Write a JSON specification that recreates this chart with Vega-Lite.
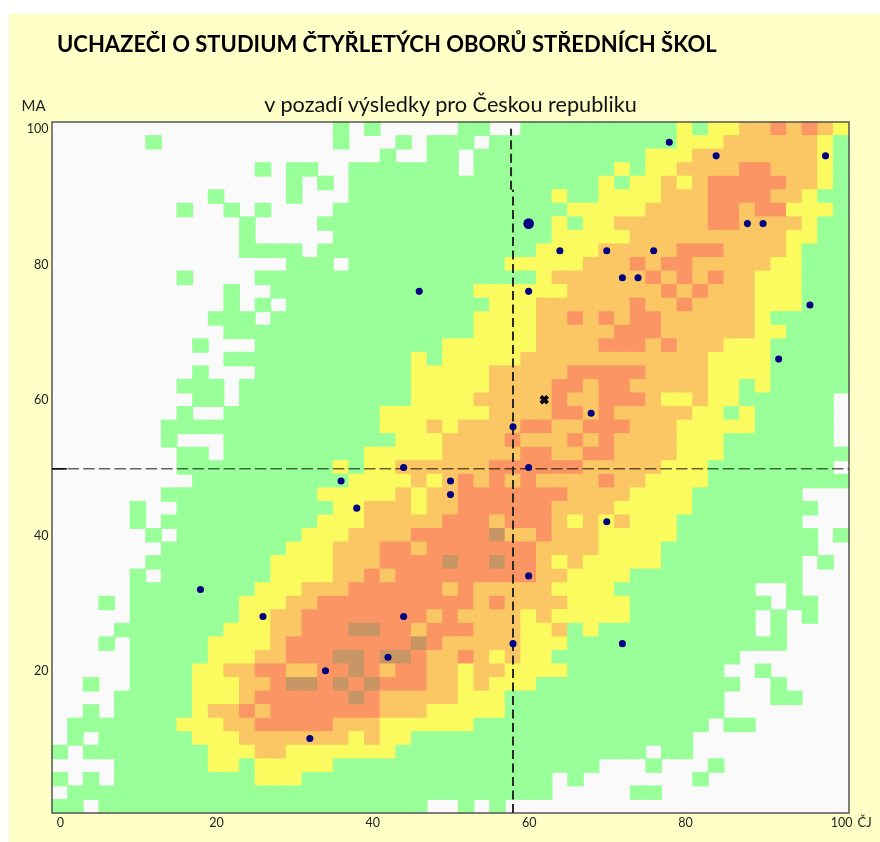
{"$schema":"https://vega.github.io/schema/vega-lite/v6.json","width":797,"height":691,"autosize":"none","padding":{"left":52,"top":122,"right":31,"bottom":29},"background":"white","config":{"view":{"stroke":null},"font":"Lato"},
"title":{"text":"UCHAZEČI O STUDIUM ČTYŘLETÝCH OBORŮ STŘEDNÍCH ŠKOL","anchor":"start","frame":"group","font":"Lato","fontSize":22,"fontWeight":"bold","color":"#000","dx":5,"offset":-43},
"datasets":{"cells":[
{"x":36,"y":100,"c":"G"},{"x":40,"y":100,"c":"G"},{"x":52,"y":100,"c":"G"},{"x":54,"y":100,"c":"G"},{"x":60,"y":100,"c":"G"},{"x":62,"y":100,"c":"G"},{"x":64,"y":100,"c":"G"},{"x":66,"y":100,"c":"G"},{"x":68,"y":100,"c":"G"},{"x":70,"y":100,"c":"G"},{"x":72,"y":100,"c":"G"},{"x":74,"y":100,"c":"G"},{"x":76,"y":100,"c":"G"},{"x":78,"y":100,"c":"G"},{"x":80,"y":100,"c":"Y"},{"x":82,"y":100,"c":"G"},{"x":84,"y":100,"c":"Y"},{"x":86,"y":100,"c":"Y"},{"x":88,"y":100,"c":"L"},{"x":90,"y":100,"c":"L"},{"x":92,"y":100,"c":"O"},{"x":94,"y":100,"c":"L"},{"x":96,"y":100,"c":"O"},{"x":98,"y":100,"c":"L"},{"x":100,"y":100,"c":"Y"},
{"x":12,"y":98,"c":"G"},{"x":36,"y":98,"c":"G"},{"x":44,"y":98,"c":"G"},{"x":48,"y":98,"c":"G"},{"x":50,"y":98,"c":"G"},{"x":52,"y":98,"c":"G"},{"x":56,"y":98,"c":"G"},{"x":58,"y":98,"c":"G"},{"x":60,"y":98,"c":"G"},{"x":62,"y":98,"c":"G"},{"x":64,"y":98,"c":"G"},{"x":66,"y":98,"c":"G"},{"x":68,"y":98,"c":"G"},{"x":70,"y":98,"c":"G"},{"x":72,"y":98,"c":"G"},{"x":74,"y":98,"c":"G"},{"x":76,"y":98,"c":"G"},{"x":78,"y":98,"c":"G"},{"x":80,"y":98,"c":"Y"},{"x":82,"y":98,"c":"Y"},{"x":84,"y":98,"c":"Y"},{"x":86,"y":98,"c":"L"},{"x":88,"y":98,"c":"L"},{"x":90,"y":98,"c":"L"},{"x":92,"y":98,"c":"L"},{"x":94,"y":98,"c":"L"},{"x":96,"y":98,"c":"L"},{"x":98,"y":98,"c":"Y"},{"x":100,"y":98,"c":"G"},
{"x":42,"y":96,"c":"G"},{"x":48,"y":96,"c":"G"},{"x":50,"y":96,"c":"G"},{"x":54,"y":96,"c":"G"},{"x":56,"y":96,"c":"G"},{"x":58,"y":96,"c":"G"},{"x":60,"y":96,"c":"G"},{"x":62,"y":96,"c":"G"},{"x":64,"y":96,"c":"G"},{"x":66,"y":96,"c":"G"},{"x":68,"y":96,"c":"G"},{"x":70,"y":96,"c":"G"},{"x":72,"y":96,"c":"G"},{"x":74,"y":96,"c":"G"},{"x":76,"y":96,"c":"Y"},{"x":78,"y":96,"c":"Y"},{"x":80,"y":96,"c":"Y"},{"x":82,"y":96,"c":"L"},{"x":84,"y":96,"c":"L"},{"x":86,"y":96,"c":"L"},{"x":88,"y":96,"c":"L"},{"x":90,"y":96,"c":"L"},{"x":92,"y":96,"c":"L"},{"x":94,"y":96,"c":"L"},{"x":96,"y":96,"c":"L"},{"x":98,"y":96,"c":"Y"},{"x":100,"y":96,"c":"G"},
{"x":26,"y":94,"c":"G"},{"x":30,"y":94,"c":"G"},{"x":32,"y":94,"c":"G"},{"x":38,"y":94,"c":"G"},{"x":40,"y":94,"c":"G"},{"x":42,"y":94,"c":"G"},{"x":44,"y":94,"c":"G"},{"x":46,"y":94,"c":"G"},{"x":48,"y":94,"c":"G"},{"x":50,"y":94,"c":"G"},{"x":54,"y":94,"c":"G"},{"x":56,"y":94,"c":"G"},{"x":58,"y":94,"c":"G"},{"x":60,"y":94,"c":"G"},{"x":62,"y":94,"c":"G"},{"x":64,"y":94,"c":"G"},{"x":66,"y":94,"c":"G"},{"x":68,"y":94,"c":"G"},{"x":70,"y":94,"c":"G"},{"x":72,"y":94,"c":"Y"},{"x":74,"y":94,"c":"G"},{"x":76,"y":94,"c":"Y"},{"x":78,"y":94,"c":"Y"},{"x":80,"y":94,"c":"L"},{"x":82,"y":94,"c":"L"},{"x":84,"y":94,"c":"L"},{"x":86,"y":94,"c":"L"},{"x":88,"y":94,"c":"O"},{"x":90,"y":94,"c":"O"},{"x":92,"y":94,"c":"L"},{"x":94,"y":94,"c":"L"},{"x":96,"y":94,"c":"L"},{"x":98,"y":94,"c":"Y"},{"x":100,"y":94,"c":"G"},
{"x":30,"y":92,"c":"G"},{"x":34,"y":92,"c":"G"},{"x":38,"y":92,"c":"G"},{"x":40,"y":92,"c":"G"},{"x":42,"y":92,"c":"G"},{"x":44,"y":92,"c":"G"},{"x":46,"y":92,"c":"G"},{"x":48,"y":92,"c":"G"},{"x":50,"y":92,"c":"G"},{"x":52,"y":92,"c":"G"},{"x":54,"y":92,"c":"G"},{"x":56,"y":92,"c":"G"},{"x":58,"y":92,"c":"G"},{"x":60,"y":92,"c":"G"},{"x":62,"y":92,"c":"G"},{"x":64,"y":92,"c":"G"},{"x":66,"y":92,"c":"G"},{"x":68,"y":92,"c":"G"},{"x":70,"y":92,"c":"Y"},{"x":72,"y":92,"c":"G"},{"x":74,"y":92,"c":"Y"},{"x":76,"y":92,"c":"Y"},{"x":78,"y":92,"c":"L"},{"x":80,"y":92,"c":"Y"},{"x":82,"y":92,"c":"L"},{"x":84,"y":92,"c":"O"},{"x":86,"y":92,"c":"O"},{"x":88,"y":92,"c":"O"},{"x":90,"y":92,"c":"O"},{"x":92,"y":92,"c":"O"},{"x":94,"y":92,"c":"L"},{"x":96,"y":92,"c":"L"},{"x":98,"y":92,"c":"Y"},{"x":100,"y":92,"c":"G"},
{"x":20,"y":90,"c":"G"},{"x":30,"y":90,"c":"G"},{"x":38,"y":90,"c":"G"},{"x":40,"y":90,"c":"G"},{"x":42,"y":90,"c":"G"},{"x":44,"y":90,"c":"G"},{"x":46,"y":90,"c":"G"},{"x":48,"y":90,"c":"G"},{"x":50,"y":90,"c":"G"},{"x":52,"y":90,"c":"G"},{"x":54,"y":90,"c":"G"},{"x":56,"y":90,"c":"G"},{"x":58,"y":90,"c":"G"},{"x":60,"y":90,"c":"G"},{"x":62,"y":90,"c":"G"},{"x":64,"y":90,"c":"Y"},{"x":66,"y":90,"c":"G"},{"x":68,"y":90,"c":"G"},{"x":70,"y":90,"c":"Y"},{"x":72,"y":90,"c":"Y"},{"x":74,"y":90,"c":"Y"},{"x":76,"y":90,"c":"Y"},{"x":78,"y":90,"c":"L"},{"x":80,"y":90,"c":"L"},{"x":82,"y":90,"c":"L"},{"x":84,"y":90,"c":"O"},{"x":86,"y":90,"c":"O"},{"x":88,"y":90,"c":"O"},{"x":90,"y":90,"c":"O"},{"x":92,"y":90,"c":"L"},{"x":94,"y":90,"c":"L"},{"x":96,"y":90,"c":"Y"},{"x":98,"y":90,"c":"G"},{"x":100,"y":90,"c":"G"},
{"x":16,"y":88,"c":"G"},{"x":22,"y":88,"c":"G"},{"x":26,"y":88,"c":"G"},{"x":36,"y":88,"c":"G"},{"x":38,"y":88,"c":"G"},{"x":40,"y":88,"c":"G"},{"x":42,"y":88,"c":"G"},{"x":44,"y":88,"c":"G"},{"x":46,"y":88,"c":"G"},{"x":48,"y":88,"c":"G"},{"x":50,"y":88,"c":"G"},{"x":52,"y":88,"c":"G"},{"x":54,"y":88,"c":"G"},{"x":56,"y":88,"c":"G"},{"x":58,"y":88,"c":"G"},{"x":60,"y":88,"c":"G"},{"x":62,"y":88,"c":"G"},{"x":64,"y":88,"c":"G"},{"x":66,"y":88,"c":"Y"},{"x":68,"y":88,"c":"Y"},{"x":70,"y":88,"c":"Y"},{"x":72,"y":88,"c":"Y"},{"x":74,"y":88,"c":"Y"},{"x":76,"y":88,"c":"L"},{"x":78,"y":88,"c":"L"},{"x":80,"y":88,"c":"L"},{"x":82,"y":88,"c":"L"},{"x":84,"y":88,"c":"O"},{"x":86,"y":88,"c":"O"},{"x":88,"y":88,"c":"L"},{"x":90,"y":88,"c":"O"},{"x":92,"y":88,"c":"O"},{"x":94,"y":88,"c":"Y"},{"x":96,"y":88,"c":"Y"},{"x":98,"y":88,"c":"Y"},{"x":100,"y":88,"c":"G"},
{"x":24,"y":86,"c":"G"},{"x":34,"y":86,"c":"G"},{"x":36,"y":86,"c":"G"},{"x":38,"y":86,"c":"G"},{"x":40,"y":86,"c":"G"},{"x":42,"y":86,"c":"G"},{"x":44,"y":86,"c":"G"},{"x":46,"y":86,"c":"G"},{"x":48,"y":86,"c":"G"},{"x":50,"y":86,"c":"G"},{"x":52,"y":86,"c":"G"},{"x":54,"y":86,"c":"G"},{"x":56,"y":86,"c":"G"},{"x":58,"y":86,"c":"G"},{"x":60,"y":86,"c":"G"},{"x":62,"y":86,"c":"G"},{"x":64,"y":86,"c":"Y"},{"x":66,"y":86,"c":"G"},{"x":68,"y":86,"c":"Y"},{"x":70,"y":86,"c":"Y"},{"x":72,"y":86,"c":"L"},{"x":74,"y":86,"c":"L"},{"x":76,"y":86,"c":"L"},{"x":78,"y":86,"c":"L"},{"x":80,"y":86,"c":"L"},{"x":82,"y":86,"c":"L"},{"x":84,"y":86,"c":"O"},{"x":86,"y":86,"c":"O"},{"x":88,"y":86,"c":"L"},{"x":90,"y":86,"c":"L"},{"x":92,"y":86,"c":"L"},{"x":94,"y":86,"c":"L"},{"x":96,"y":86,"c":"Y"},{"x":98,"y":86,"c":"G"},{"x":100,"y":86,"c":"G"},
{"x":24,"y":84,"c":"G"},{"x":36,"y":84,"c":"G"},{"x":38,"y":84,"c":"G"},{"x":40,"y":84,"c":"G"},{"x":42,"y":84,"c":"G"},{"x":44,"y":84,"c":"G"},{"x":46,"y":84,"c":"G"},{"x":48,"y":84,"c":"G"},{"x":50,"y":84,"c":"G"},{"x":52,"y":84,"c":"G"},{"x":54,"y":84,"c":"G"},{"x":56,"y":84,"c":"G"},{"x":58,"y":84,"c":"G"},{"x":60,"y":84,"c":"G"},{"x":62,"y":84,"c":"G"},{"x":64,"y":84,"c":"Y"},{"x":66,"y":84,"c":"Y"},{"x":68,"y":84,"c":"Y"},{"x":70,"y":84,"c":"Y"},{"x":72,"y":84,"c":"Y"},{"x":74,"y":84,"c":"L"},{"x":76,"y":84,"c":"L"},{"x":78,"y":84,"c":"L"},{"x":80,"y":84,"c":"L"},{"x":82,"y":84,"c":"L"},{"x":84,"y":84,"c":"L"},{"x":86,"y":84,"c":"L"},{"x":88,"y":84,"c":"L"},{"x":90,"y":84,"c":"L"},{"x":92,"y":84,"c":"L"},{"x":94,"y":84,"c":"Y"},{"x":96,"y":84,"c":"Y"},{"x":98,"y":84,"c":"G"},{"x":100,"y":84,"c":"G"},
{"x":24,"y":82,"c":"G"},{"x":26,"y":82,"c":"G"},{"x":28,"y":82,"c":"G"},{"x":30,"y":82,"c":"G"},{"x":34,"y":82,"c":"G"},{"x":36,"y":82,"c":"G"},{"x":38,"y":82,"c":"G"},{"x":40,"y":82,"c":"G"},{"x":42,"y":82,"c":"G"},{"x":44,"y":82,"c":"G"},{"x":46,"y":82,"c":"G"},{"x":48,"y":82,"c":"G"},{"x":50,"y":82,"c":"G"},{"x":52,"y":82,"c":"G"},{"x":54,"y":82,"c":"G"},{"x":56,"y":82,"c":"G"},{"x":58,"y":82,"c":"G"},{"x":60,"y":82,"c":"G"},{"x":62,"y":82,"c":"Y"},{"x":64,"y":82,"c":"Y"},{"x":66,"y":82,"c":"Y"},{"x":68,"y":82,"c":"Y"},{"x":70,"y":82,"c":"L"},{"x":72,"y":82,"c":"L"},{"x":74,"y":82,"c":"L"},{"x":76,"y":82,"c":"L"},{"x":78,"y":82,"c":"L"},{"x":80,"y":82,"c":"O"},{"x":82,"y":82,"c":"O"},{"x":84,"y":82,"c":"O"},{"x":86,"y":82,"c":"L"},{"x":88,"y":82,"c":"L"},{"x":90,"y":82,"c":"L"},{"x":92,"y":82,"c":"L"},{"x":94,"y":82,"c":"Y"},{"x":96,"y":82,"c":"G"},{"x":98,"y":82,"c":"G"},{"x":100,"y":82,"c":"G"},
{"x":30,"y":80,"c":"G"},{"x":32,"y":80,"c":"G"},{"x":34,"y":80,"c":"G"},{"x":38,"y":80,"c":"G"},{"x":40,"y":80,"c":"G"},{"x":42,"y":80,"c":"G"},{"x":44,"y":80,"c":"G"},{"x":46,"y":80,"c":"G"},{"x":48,"y":80,"c":"G"},{"x":50,"y":80,"c":"G"},{"x":52,"y":80,"c":"G"},{"x":54,"y":80,"c":"G"},{"x":56,"y":80,"c":"G"},{"x":58,"y":80,"c":"Y"},{"x":60,"y":80,"c":"Y"},{"x":62,"y":80,"c":"Y"},{"x":64,"y":80,"c":"Y"},{"x":66,"y":80,"c":"Y"},{"x":68,"y":80,"c":"L"},{"x":70,"y":80,"c":"L"},{"x":72,"y":80,"c":"L"},{"x":74,"y":80,"c":"O"},{"x":76,"y":80,"c":"L"},{"x":78,"y":80,"c":"O"},{"x":80,"y":80,"c":"O"},{"x":82,"y":80,"c":"L"},{"x":84,"y":80,"c":"L"},{"x":86,"y":80,"c":"L"},{"x":88,"y":80,"c":"L"},{"x":90,"y":80,"c":"L"},{"x":92,"y":80,"c":"Y"},{"x":94,"y":80,"c":"Y"},{"x":96,"y":80,"c":"G"},{"x":98,"y":80,"c":"G"},{"x":100,"y":80,"c":"G"},
{"x":16,"y":78,"c":"G"},{"x":26,"y":78,"c":"G"},{"x":28,"y":78,"c":"G"},{"x":30,"y":78,"c":"G"},{"x":32,"y":78,"c":"G"},{"x":34,"y":78,"c":"G"},{"x":36,"y":78,"c":"G"},{"x":38,"y":78,"c":"G"},{"x":40,"y":78,"c":"G"},{"x":42,"y":78,"c":"G"},{"x":44,"y":78,"c":"G"},{"x":46,"y":78,"c":"G"},{"x":48,"y":78,"c":"G"},{"x":50,"y":78,"c":"G"},{"x":52,"y":78,"c":"G"},{"x":54,"y":78,"c":"G"},{"x":56,"y":78,"c":"G"},{"x":58,"y":78,"c":"G"},{"x":60,"y":78,"c":"G"},{"x":62,"y":78,"c":"Y"},{"x":64,"y":78,"c":"L"},{"x":66,"y":78,"c":"L"},{"x":68,"y":78,"c":"L"},{"x":70,"y":78,"c":"L"},{"x":72,"y":78,"c":"L"},{"x":74,"y":78,"c":"L"},{"x":76,"y":78,"c":"O"},{"x":78,"y":78,"c":"L"},{"x":80,"y":78,"c":"O"},{"x":82,"y":78,"c":"L"},{"x":84,"y":78,"c":"O"},{"x":86,"y":78,"c":"L"},{"x":88,"y":78,"c":"L"},{"x":90,"y":78,"c":"Y"},{"x":92,"y":78,"c":"Y"},{"x":94,"y":78,"c":"Y"},{"x":96,"y":78,"c":"G"},{"x":98,"y":78,"c":"G"},{"x":100,"y":78,"c":"G"},
{"x":22,"y":76,"c":"G"},{"x":28,"y":76,"c":"G"},{"x":30,"y":76,"c":"G"},{"x":32,"y":76,"c":"G"},{"x":34,"y":76,"c":"G"},{"x":36,"y":76,"c":"G"},{"x":38,"y":76,"c":"G"},{"x":40,"y":76,"c":"G"},{"x":42,"y":76,"c":"G"},{"x":44,"y":76,"c":"G"},{"x":46,"y":76,"c":"G"},{"x":48,"y":76,"c":"G"},{"x":50,"y":76,"c":"G"},{"x":52,"y":76,"c":"G"},{"x":54,"y":76,"c":"Y"},{"x":56,"y":76,"c":"Y"},{"x":58,"y":76,"c":"Y"},{"x":60,"y":76,"c":"Y"},{"x":62,"y":76,"c":"Y"},{"x":64,"y":76,"c":"Y"},{"x":66,"y":76,"c":"L"},{"x":68,"y":76,"c":"L"},{"x":70,"y":76,"c":"L"},{"x":72,"y":76,"c":"L"},{"x":74,"y":76,"c":"L"},{"x":76,"y":76,"c":"L"},{"x":78,"y":76,"c":"O"},{"x":80,"y":76,"c":"L"},{"x":82,"y":76,"c":"O"},{"x":84,"y":76,"c":"L"},{"x":86,"y":76,"c":"L"},{"x":88,"y":76,"c":"L"},{"x":90,"y":76,"c":"Y"},{"x":92,"y":76,"c":"Y"},{"x":94,"y":76,"c":"Y"},{"x":96,"y":76,"c":"G"},{"x":98,"y":76,"c":"G"},{"x":100,"y":76,"c":"G"},
{"x":22,"y":74,"c":"G"},{"x":26,"y":74,"c":"G"},{"x":30,"y":74,"c":"G"},{"x":32,"y":74,"c":"G"},{"x":34,"y":74,"c":"G"},{"x":36,"y":74,"c":"G"},{"x":38,"y":74,"c":"G"},{"x":40,"y":74,"c":"G"},{"x":42,"y":74,"c":"G"},{"x":44,"y":74,"c":"G"},{"x":46,"y":74,"c":"G"},{"x":48,"y":74,"c":"G"},{"x":50,"y":74,"c":"G"},{"x":52,"y":74,"c":"G"},{"x":54,"y":74,"c":"G"},{"x":56,"y":74,"c":"Y"},{"x":58,"y":74,"c":"Y"},{"x":60,"y":74,"c":"Y"},{"x":62,"y":74,"c":"L"},{"x":64,"y":74,"c":"L"},{"x":66,"y":74,"c":"L"},{"x":68,"y":74,"c":"L"},{"x":70,"y":74,"c":"L"},{"x":72,"y":74,"c":"L"},{"x":74,"y":74,"c":"O"},{"x":76,"y":74,"c":"L"},{"x":78,"y":74,"c":"L"},{"x":80,"y":74,"c":"O"},{"x":82,"y":74,"c":"L"},{"x":84,"y":74,"c":"L"},{"x":86,"y":74,"c":"L"},{"x":88,"y":74,"c":"L"},{"x":90,"y":74,"c":"Y"},{"x":92,"y":74,"c":"Y"},{"x":94,"y":74,"c":"Y"},{"x":96,"y":74,"c":"G"},{"x":98,"y":74,"c":"G"},{"x":100,"y":74,"c":"G"},
{"x":20,"y":72,"c":"G"},{"x":22,"y":72,"c":"G"},{"x":24,"y":72,"c":"G"},{"x":28,"y":72,"c":"G"},{"x":30,"y":72,"c":"G"},{"x":32,"y":72,"c":"G"},{"x":34,"y":72,"c":"G"},{"x":36,"y":72,"c":"G"},{"x":38,"y":72,"c":"G"},{"x":40,"y":72,"c":"G"},{"x":42,"y":72,"c":"G"},{"x":44,"y":72,"c":"G"},{"x":46,"y":72,"c":"G"},{"x":48,"y":72,"c":"G"},{"x":50,"y":72,"c":"G"},{"x":52,"y":72,"c":"G"},{"x":54,"y":72,"c":"Y"},{"x":56,"y":72,"c":"Y"},{"x":58,"y":72,"c":"Y"},{"x":60,"y":72,"c":"Y"},{"x":62,"y":72,"c":"L"},{"x":64,"y":72,"c":"L"},{"x":66,"y":72,"c":"O"},{"x":68,"y":72,"c":"L"},{"x":70,"y":72,"c":"O"},{"x":72,"y":72,"c":"L"},{"x":74,"y":72,"c":"O"},{"x":76,"y":72,"c":"O"},{"x":78,"y":72,"c":"L"},{"x":80,"y":72,"c":"L"},{"x":82,"y":72,"c":"L"},{"x":84,"y":72,"c":"L"},{"x":86,"y":72,"c":"L"},{"x":88,"y":72,"c":"L"},{"x":90,"y":72,"c":"Y"},{"x":92,"y":72,"c":"G"},{"x":94,"y":72,"c":"G"},{"x":96,"y":72,"c":"G"},{"x":98,"y":72,"c":"G"},{"x":100,"y":72,"c":"G"},
{"x":22,"y":70,"c":"G"},{"x":24,"y":70,"c":"G"},{"x":26,"y":70,"c":"G"},{"x":28,"y":70,"c":"G"},{"x":30,"y":70,"c":"G"},{"x":32,"y":70,"c":"G"},{"x":34,"y":70,"c":"G"},{"x":36,"y":70,"c":"G"},{"x":38,"y":70,"c":"G"},{"x":40,"y":70,"c":"G"},{"x":42,"y":70,"c":"G"},{"x":44,"y":70,"c":"G"},{"x":46,"y":70,"c":"G"},{"x":48,"y":70,"c":"G"},{"x":50,"y":70,"c":"G"},{"x":52,"y":70,"c":"G"},{"x":54,"y":70,"c":"Y"},{"x":56,"y":70,"c":"Y"},{"x":58,"y":70,"c":"Y"},{"x":60,"y":70,"c":"Y"},{"x":62,"y":70,"c":"L"},{"x":64,"y":70,"c":"L"},{"x":66,"y":70,"c":"L"},{"x":68,"y":70,"c":"L"},{"x":70,"y":70,"c":"L"},{"x":72,"y":70,"c":"O"},{"x":74,"y":70,"c":"O"},{"x":76,"y":70,"c":"O"},{"x":78,"y":70,"c":"L"},{"x":80,"y":70,"c":"L"},{"x":82,"y":70,"c":"L"},{"x":84,"y":70,"c":"L"},{"x":86,"y":70,"c":"L"},{"x":88,"y":70,"c":"L"},{"x":90,"y":70,"c":"Y"},{"x":92,"y":70,"c":"Y"},{"x":94,"y":70,"c":"G"},{"x":96,"y":70,"c":"G"},{"x":98,"y":70,"c":"G"},{"x":100,"y":70,"c":"G"},
{"x":18,"y":68,"c":"G"},{"x":26,"y":68,"c":"G"},{"x":28,"y":68,"c":"G"},{"x":30,"y":68,"c":"G"},{"x":32,"y":68,"c":"G"},{"x":34,"y":68,"c":"G"},{"x":36,"y":68,"c":"G"},{"x":38,"y":68,"c":"G"},{"x":40,"y":68,"c":"G"},{"x":42,"y":68,"c":"G"},{"x":44,"y":68,"c":"G"},{"x":46,"y":68,"c":"G"},{"x":48,"y":68,"c":"G"},{"x":50,"y":68,"c":"Y"},{"x":52,"y":68,"c":"Y"},{"x":54,"y":68,"c":"Y"},{"x":56,"y":68,"c":"Y"},{"x":58,"y":68,"c":"Y"},{"x":60,"y":68,"c":"Y"},{"x":62,"y":68,"c":"L"},{"x":64,"y":68,"c":"L"},{"x":66,"y":68,"c":"L"},{"x":68,"y":68,"c":"L"},{"x":70,"y":68,"c":"O"},{"x":72,"y":68,"c":"O"},{"x":74,"y":68,"c":"O"},{"x":76,"y":68,"c":"L"},{"x":78,"y":68,"c":"O"},{"x":80,"y":68,"c":"L"},{"x":82,"y":68,"c":"L"},{"x":84,"y":68,"c":"L"},{"x":86,"y":68,"c":"Y"},{"x":88,"y":68,"c":"Y"},{"x":90,"y":68,"c":"Y"},{"x":92,"y":68,"c":"G"},{"x":94,"y":68,"c":"G"},{"x":96,"y":68,"c":"G"},{"x":98,"y":68,"c":"G"},{"x":100,"y":68,"c":"G"},
{"x":22,"y":66,"c":"G"},{"x":24,"y":66,"c":"G"},{"x":26,"y":66,"c":"G"},{"x":28,"y":66,"c":"G"},{"x":30,"y":66,"c":"G"},{"x":32,"y":66,"c":"G"},{"x":34,"y":66,"c":"G"},{"x":36,"y":66,"c":"G"},{"x":38,"y":66,"c":"G"},{"x":40,"y":66,"c":"G"},{"x":42,"y":66,"c":"G"},{"x":44,"y":66,"c":"G"},{"x":46,"y":66,"c":"Y"},{"x":48,"y":66,"c":"G"},{"x":50,"y":66,"c":"Y"},{"x":52,"y":66,"c":"Y"},{"x":54,"y":66,"c":"Y"},{"x":56,"y":66,"c":"Y"},{"x":58,"y":66,"c":"Y"},{"x":60,"y":66,"c":"L"},{"x":62,"y":66,"c":"L"},{"x":64,"y":66,"c":"L"},{"x":66,"y":66,"c":"L"},{"x":68,"y":66,"c":"L"},{"x":70,"y":66,"c":"L"},{"x":72,"y":66,"c":"L"},{"x":74,"y":66,"c":"L"},{"x":76,"y":66,"c":"L"},{"x":78,"y":66,"c":"L"},{"x":80,"y":66,"c":"L"},{"x":82,"y":66,"c":"L"},{"x":84,"y":66,"c":"Y"},{"x":86,"y":66,"c":"Y"},{"x":88,"y":66,"c":"Y"},{"x":90,"y":66,"c":"Y"},{"x":92,"y":66,"c":"G"},{"x":94,"y":66,"c":"G"},{"x":96,"y":66,"c":"G"},{"x":98,"y":66,"c":"G"},{"x":100,"y":66,"c":"G"},
{"x":18,"y":64,"c":"G"},{"x":26,"y":64,"c":"G"},{"x":28,"y":64,"c":"G"},{"x":30,"y":64,"c":"G"},{"x":32,"y":64,"c":"G"},{"x":34,"y":64,"c":"G"},{"x":36,"y":64,"c":"G"},{"x":38,"y":64,"c":"G"},{"x":40,"y":64,"c":"G"},{"x":42,"y":64,"c":"G"},{"x":44,"y":64,"c":"G"},{"x":46,"y":64,"c":"Y"},{"x":48,"y":64,"c":"Y"},{"x":50,"y":64,"c":"Y"},{"x":52,"y":64,"c":"Y"},{"x":54,"y":64,"c":"Y"},{"x":56,"y":64,"c":"L"},{"x":58,"y":64,"c":"L"},{"x":60,"y":64,"c":"L"},{"x":62,"y":64,"c":"L"},{"x":64,"y":64,"c":"L"},{"x":66,"y":64,"c":"O"},{"x":68,"y":64,"c":"O"},{"x":70,"y":64,"c":"O"},{"x":72,"y":64,"c":"O"},{"x":74,"y":64,"c":"O"},{"x":76,"y":64,"c":"L"},{"x":78,"y":64,"c":"L"},{"x":80,"y":64,"c":"L"},{"x":82,"y":64,"c":"L"},{"x":84,"y":64,"c":"Y"},{"x":86,"y":64,"c":"Y"},{"x":88,"y":64,"c":"Y"},{"x":90,"y":64,"c":"Y"},{"x":92,"y":64,"c":"G"},{"x":94,"y":64,"c":"G"},{"x":96,"y":64,"c":"G"},{"x":98,"y":64,"c":"G"},{"x":100,"y":64,"c":"G"},
{"x":16,"y":62,"c":"G"},{"x":18,"y":62,"c":"G"},{"x":20,"y":62,"c":"G"},{"x":24,"y":62,"c":"G"},{"x":26,"y":62,"c":"G"},{"x":28,"y":62,"c":"G"},{"x":30,"y":62,"c":"G"},{"x":32,"y":62,"c":"G"},{"x":34,"y":62,"c":"G"},{"x":36,"y":62,"c":"G"},{"x":38,"y":62,"c":"G"},{"x":40,"y":62,"c":"G"},{"x":42,"y":62,"c":"G"},{"x":44,"y":62,"c":"G"},{"x":46,"y":62,"c":"Y"},{"x":48,"y":62,"c":"Y"},{"x":50,"y":62,"c":"Y"},{"x":52,"y":62,"c":"Y"},{"x":54,"y":62,"c":"Y"},{"x":56,"y":62,"c":"L"},{"x":58,"y":62,"c":"L"},{"x":60,"y":62,"c":"L"},{"x":62,"y":62,"c":"L"},{"x":64,"y":62,"c":"O"},{"x":66,"y":62,"c":"O"},{"x":68,"y":62,"c":"L"},{"x":70,"y":62,"c":"O"},{"x":72,"y":62,"c":"O"},{"x":74,"y":62,"c":"L"},{"x":76,"y":62,"c":"L"},{"x":78,"y":62,"c":"L"},{"x":80,"y":62,"c":"L"},{"x":82,"y":62,"c":"L"},{"x":84,"y":62,"c":"Y"},{"x":86,"y":62,"c":"Y"},{"x":88,"y":62,"c":"G"},{"x":90,"y":62,"c":"Y"},{"x":92,"y":62,"c":"G"},{"x":94,"y":62,"c":"G"},{"x":96,"y":62,"c":"G"},{"x":98,"y":62,"c":"G"},{"x":100,"y":62,"c":"G"},
{"x":18,"y":60,"c":"G"},{"x":20,"y":60,"c":"G"},{"x":24,"y":60,"c":"G"},{"x":26,"y":60,"c":"G"},{"x":28,"y":60,"c":"G"},{"x":30,"y":60,"c":"G"},{"x":32,"y":60,"c":"G"},{"x":34,"y":60,"c":"G"},{"x":36,"y":60,"c":"G"},{"x":38,"y":60,"c":"G"},{"x":40,"y":60,"c":"G"},{"x":42,"y":60,"c":"G"},{"x":44,"y":60,"c":"G"},{"x":46,"y":60,"c":"Y"},{"x":48,"y":60,"c":"Y"},{"x":50,"y":60,"c":"Y"},{"x":52,"y":60,"c":"Y"},{"x":54,"y":60,"c":"L"},{"x":56,"y":60,"c":"L"},{"x":58,"y":60,"c":"L"},{"x":60,"y":60,"c":"L"},{"x":62,"y":60,"c":"L"},{"x":64,"y":60,"c":"O"},{"x":66,"y":60,"c":"L"},{"x":68,"y":60,"c":"L"},{"x":70,"y":60,"c":"O"},{"x":72,"y":60,"c":"O"},{"x":74,"y":60,"c":"O"},{"x":76,"y":60,"c":"L"},{"x":78,"y":60,"c":"Y"},{"x":80,"y":60,"c":"Y"},{"x":82,"y":60,"c":"L"},{"x":84,"y":60,"c":"Y"},{"x":86,"y":60,"c":"Y"},{"x":88,"y":60,"c":"G"},{"x":90,"y":60,"c":"G"},{"x":92,"y":60,"c":"G"},{"x":94,"y":60,"c":"G"},{"x":96,"y":60,"c":"G"},{"x":98,"y":60,"c":"G"},
{"x":16,"y":58,"c":"G"},{"x":22,"y":58,"c":"G"},{"x":24,"y":58,"c":"G"},{"x":26,"y":58,"c":"G"},{"x":28,"y":58,"c":"G"},{"x":30,"y":58,"c":"G"},{"x":32,"y":58,"c":"G"},{"x":34,"y":58,"c":"G"},{"x":36,"y":58,"c":"G"},{"x":38,"y":58,"c":"G"},{"x":40,"y":58,"c":"G"},{"x":42,"y":58,"c":"Y"},{"x":44,"y":58,"c":"Y"},{"x":46,"y":58,"c":"Y"},{"x":48,"y":58,"c":"Y"},{"x":50,"y":58,"c":"Y"},{"x":52,"y":58,"c":"Y"},{"x":54,"y":58,"c":"Y"},{"x":56,"y":58,"c":"L"},{"x":58,"y":58,"c":"L"},{"x":60,"y":58,"c":"L"},{"x":62,"y":58,"c":"L"},{"x":64,"y":58,"c":"O"},{"x":66,"y":58,"c":"O"},{"x":68,"y":58,"c":"L"},{"x":70,"y":58,"c":"O"},{"x":72,"y":58,"c":"L"},{"x":74,"y":58,"c":"L"},{"x":76,"y":58,"c":"L"},{"x":78,"y":58,"c":"L"},{"x":80,"y":58,"c":"L"},{"x":82,"y":58,"c":"Y"},{"x":84,"y":58,"c":"Y"},{"x":86,"y":58,"c":"G"},{"x":88,"y":58,"c":"Y"},{"x":90,"y":58,"c":"G"},{"x":92,"y":58,"c":"G"},{"x":94,"y":58,"c":"G"},{"x":96,"y":58,"c":"G"},{"x":98,"y":58,"c":"G"},
{"x":14,"y":56,"c":"G"},{"x":16,"y":56,"c":"G"},{"x":18,"y":56,"c":"G"},{"x":20,"y":56,"c":"G"},{"x":22,"y":56,"c":"G"},{"x":24,"y":56,"c":"G"},{"x":26,"y":56,"c":"G"},{"x":28,"y":56,"c":"G"},{"x":30,"y":56,"c":"G"},{"x":32,"y":56,"c":"G"},{"x":34,"y":56,"c":"G"},{"x":36,"y":56,"c":"G"},{"x":38,"y":56,"c":"G"},{"x":40,"y":56,"c":"G"},{"x":42,"y":56,"c":"Y"},{"x":44,"y":56,"c":"Y"},{"x":46,"y":56,"c":"Y"},{"x":48,"y":56,"c":"L"},{"x":50,"y":56,"c":"Y"},{"x":52,"y":56,"c":"L"},{"x":54,"y":56,"c":"L"},{"x":56,"y":56,"c":"L"},{"x":58,"y":56,"c":"L"},{"x":60,"y":56,"c":"O"},{"x":62,"y":56,"c":"O"},{"x":64,"y":56,"c":"L"},{"x":66,"y":56,"c":"L"},{"x":68,"y":56,"c":"O"},{"x":70,"y":56,"c":"O"},{"x":72,"y":56,"c":"O"},{"x":74,"y":56,"c":"L"},{"x":76,"y":56,"c":"L"},{"x":78,"y":56,"c":"L"},{"x":80,"y":56,"c":"Y"},{"x":82,"y":56,"c":"Y"},{"x":84,"y":56,"c":"Y"},{"x":86,"y":56,"c":"Y"},{"x":88,"y":56,"c":"Y"},{"x":90,"y":56,"c":"G"},{"x":92,"y":56,"c":"G"},{"x":94,"y":56,"c":"G"},{"x":96,"y":56,"c":"G"},{"x":98,"y":56,"c":"G"},
{"x":14,"y":54,"c":"G"},{"x":22,"y":54,"c":"G"},{"x":24,"y":54,"c":"G"},{"x":26,"y":54,"c":"G"},{"x":28,"y":54,"c":"G"},{"x":30,"y":54,"c":"G"},{"x":32,"y":54,"c":"G"},{"x":34,"y":54,"c":"G"},{"x":36,"y":54,"c":"G"},{"x":38,"y":54,"c":"G"},{"x":40,"y":54,"c":"G"},{"x":42,"y":54,"c":"G"},{"x":44,"y":54,"c":"Y"},{"x":46,"y":54,"c":"Y"},{"x":48,"y":54,"c":"Y"},{"x":50,"y":54,"c":"L"},{"x":52,"y":54,"c":"L"},{"x":54,"y":54,"c":"L"},{"x":56,"y":54,"c":"L"},{"x":58,"y":54,"c":"O"},{"x":60,"y":54,"c":"L"},{"x":62,"y":54,"c":"L"},{"x":64,"y":54,"c":"L"},{"x":66,"y":54,"c":"O"},{"x":68,"y":54,"c":"L"},{"x":70,"y":54,"c":"O"},{"x":72,"y":54,"c":"L"},{"x":74,"y":54,"c":"L"},{"x":76,"y":54,"c":"L"},{"x":78,"y":54,"c":"L"},{"x":80,"y":54,"c":"Y"},{"x":82,"y":54,"c":"Y"},{"x":84,"y":54,"c":"Y"},{"x":86,"y":54,"c":"G"},{"x":88,"y":54,"c":"G"},{"x":90,"y":54,"c":"G"},{"x":92,"y":54,"c":"G"},{"x":94,"y":54,"c":"G"},{"x":96,"y":54,"c":"G"},{"x":98,"y":54,"c":"G"},
{"x":16,"y":52,"c":"G"},{"x":18,"y":52,"c":"G"},{"x":22,"y":52,"c":"G"},{"x":24,"y":52,"c":"G"},{"x":26,"y":52,"c":"G"},{"x":28,"y":52,"c":"G"},{"x":30,"y":52,"c":"G"},{"x":32,"y":52,"c":"G"},{"x":34,"y":52,"c":"G"},{"x":36,"y":52,"c":"G"},{"x":38,"y":52,"c":"G"},{"x":40,"y":52,"c":"Y"},{"x":42,"y":52,"c":"Y"},{"x":44,"y":52,"c":"Y"},{"x":46,"y":52,"c":"Y"},{"x":48,"y":52,"c":"Y"},{"x":50,"y":52,"c":"L"},{"x":52,"y":52,"c":"L"},{"x":54,"y":52,"c":"L"},{"x":56,"y":52,"c":"L"},{"x":58,"y":52,"c":"L"},{"x":60,"y":52,"c":"O"},{"x":62,"y":52,"c":"O"},{"x":64,"y":52,"c":"L"},{"x":66,"y":52,"c":"L"},{"x":68,"y":52,"c":"O"},{"x":70,"y":52,"c":"O"},{"x":72,"y":52,"c":"L"},{"x":74,"y":52,"c":"L"},{"x":76,"y":52,"c":"L"},{"x":78,"y":52,"c":"L"},{"x":80,"y":52,"c":"Y"},{"x":82,"y":52,"c":"Y"},{"x":84,"y":52,"c":"Y"},{"x":86,"y":52,"c":"G"},{"x":88,"y":52,"c":"G"},{"x":90,"y":52,"c":"G"},{"x":92,"y":52,"c":"G"},{"x":94,"y":52,"c":"G"},{"x":96,"y":52,"c":"G"},{"x":98,"y":52,"c":"G"},{"x":100,"y":52,"c":"G"},
{"x":16,"y":50,"c":"G"},{"x":18,"y":50,"c":"G"},{"x":20,"y":50,"c":"G"},{"x":22,"y":50,"c":"G"},{"x":24,"y":50,"c":"G"},{"x":26,"y":50,"c":"G"},{"x":28,"y":50,"c":"G"},{"x":30,"y":50,"c":"G"},{"x":32,"y":50,"c":"G"},{"x":34,"y":50,"c":"G"},{"x":36,"y":50,"c":"Y"},{"x":38,"y":50,"c":"G"},{"x":40,"y":50,"c":"Y"},{"x":42,"y":50,"c":"Y"},{"x":44,"y":50,"c":"L"},{"x":46,"y":50,"c":"L"},{"x":48,"y":50,"c":"L"},{"x":50,"y":50,"c":"L"},{"x":52,"y":50,"c":"L"},{"x":54,"y":50,"c":"L"},{"x":56,"y":50,"c":"O"},{"x":58,"y":50,"c":"O"},{"x":60,"y":50,"c":"O"},{"x":62,"y":50,"c":"O"},{"x":64,"y":50,"c":"O"},{"x":66,"y":50,"c":"O"},{"x":68,"y":50,"c":"L"},{"x":70,"y":50,"c":"L"},{"x":72,"y":50,"c":"L"},{"x":74,"y":50,"c":"L"},{"x":76,"y":50,"c":"L"},{"x":78,"y":50,"c":"Y"},{"x":80,"y":50,"c":"Y"},{"x":82,"y":50,"c":"Y"},{"x":84,"y":50,"c":"G"},{"x":86,"y":50,"c":"G"},{"x":88,"y":50,"c":"G"},{"x":90,"y":50,"c":"G"},{"x":92,"y":50,"c":"G"},{"x":94,"y":50,"c":"G"},{"x":96,"y":50,"c":"G"},{"x":98,"y":50,"c":"G"},
{"x":18,"y":48,"c":"G"},{"x":20,"y":48,"c":"G"},{"x":22,"y":48,"c":"G"},{"x":24,"y":48,"c":"G"},{"x":26,"y":48,"c":"G"},{"x":28,"y":48,"c":"G"},{"x":30,"y":48,"c":"G"},{"x":32,"y":48,"c":"G"},{"x":34,"y":48,"c":"G"},{"x":36,"y":48,"c":"G"},{"x":38,"y":48,"c":"Y"},{"x":40,"y":48,"c":"Y"},{"x":42,"y":48,"c":"Y"},{"x":44,"y":48,"c":"Y"},{"x":46,"y":48,"c":"L"},{"x":48,"y":48,"c":"Y"},{"x":50,"y":48,"c":"L"},{"x":52,"y":48,"c":"O"},{"x":54,"y":48,"c":"L"},{"x":56,"y":48,"c":"O"},{"x":58,"y":48,"c":"L"},{"x":60,"y":48,"c":"O"},{"x":62,"y":48,"c":"L"},{"x":64,"y":48,"c":"L"},{"x":66,"y":48,"c":"L"},{"x":68,"y":48,"c":"L"},{"x":70,"y":48,"c":"O"},{"x":72,"y":48,"c":"L"},{"x":74,"y":48,"c":"L"},{"x":76,"y":48,"c":"Y"},{"x":78,"y":48,"c":"Y"},{"x":80,"y":48,"c":"Y"},{"x":82,"y":48,"c":"Y"},{"x":84,"y":48,"c":"G"},{"x":86,"y":48,"c":"G"},{"x":88,"y":48,"c":"G"},{"x":90,"y":48,"c":"G"},{"x":92,"y":48,"c":"G"},{"x":94,"y":48,"c":"G"},{"x":96,"y":48,"c":"G"},{"x":98,"y":48,"c":"G"},{"x":100,"y":48,"c":"G"},
{"x":14,"y":46,"c":"G"},{"x":16,"y":46,"c":"G"},{"x":18,"y":46,"c":"G"},{"x":20,"y":46,"c":"G"},{"x":22,"y":46,"c":"G"},{"x":24,"y":46,"c":"G"},{"x":26,"y":46,"c":"G"},{"x":28,"y":46,"c":"G"},{"x":30,"y":46,"c":"G"},{"x":32,"y":46,"c":"G"},{"x":34,"y":46,"c":"Y"},{"x":36,"y":46,"c":"Y"},{"x":38,"y":46,"c":"Y"},{"x":40,"y":46,"c":"Y"},{"x":42,"y":46,"c":"Y"},{"x":44,"y":46,"c":"L"},{"x":46,"y":46,"c":"Y"},{"x":48,"y":46,"c":"L"},{"x":50,"y":46,"c":"L"},{"x":52,"y":46,"c":"O"},{"x":54,"y":46,"c":"O"},{"x":56,"y":46,"c":"O"},{"x":58,"y":46,"c":"O"},{"x":60,"y":46,"c":"O"},{"x":62,"y":46,"c":"O"},{"x":64,"y":46,"c":"O"},{"x":66,"y":46,"c":"L"},{"x":68,"y":46,"c":"L"},{"x":70,"y":46,"c":"L"},{"x":72,"y":46,"c":"L"},{"x":74,"y":46,"c":"Y"},{"x":76,"y":46,"c":"Y"},{"x":78,"y":46,"c":"Y"},{"x":80,"y":46,"c":"Y"},{"x":82,"y":46,"c":"G"},{"x":84,"y":46,"c":"G"},{"x":86,"y":46,"c":"G"},{"x":88,"y":46,"c":"G"},{"x":90,"y":46,"c":"G"},{"x":92,"y":46,"c":"G"},{"x":94,"y":46,"c":"G"},
{"x":10,"y":44,"c":"G"},{"x":16,"y":44,"c":"G"},{"x":18,"y":44,"c":"G"},{"x":20,"y":44,"c":"G"},{"x":22,"y":44,"c":"G"},{"x":24,"y":44,"c":"G"},{"x":26,"y":44,"c":"G"},{"x":28,"y":44,"c":"G"},{"x":30,"y":44,"c":"G"},{"x":32,"y":44,"c":"G"},{"x":34,"y":44,"c":"G"},{"x":36,"y":44,"c":"Y"},{"x":38,"y":44,"c":"Y"},{"x":40,"y":44,"c":"L"},{"x":42,"y":44,"c":"L"},{"x":44,"y":44,"c":"L"},{"x":46,"y":44,"c":"Y"},{"x":48,"y":44,"c":"L"},{"x":50,"y":44,"c":"L"},{"x":52,"y":44,"c":"O"},{"x":54,"y":44,"c":"O"},{"x":56,"y":44,"c":"O"},{"x":58,"y":44,"c":"O"},{"x":60,"y":44,"c":"O"},{"x":62,"y":44,"c":"O"},{"x":64,"y":44,"c":"L"},{"x":66,"y":44,"c":"L"},{"x":68,"y":44,"c":"L"},{"x":70,"y":44,"c":"L"},{"x":72,"y":44,"c":"Y"},{"x":74,"y":44,"c":"Y"},{"x":76,"y":44,"c":"Y"},{"x":78,"y":44,"c":"Y"},{"x":80,"y":44,"c":"Y"},{"x":82,"y":44,"c":"G"},{"x":84,"y":44,"c":"G"},{"x":86,"y":44,"c":"G"},{"x":88,"y":44,"c":"G"},{"x":90,"y":44,"c":"G"},{"x":92,"y":44,"c":"G"},{"x":94,"y":44,"c":"G"},{"x":96,"y":44,"c":"G"},
{"x":10,"y":42,"c":"G"},{"x":14,"y":42,"c":"G"},{"x":16,"y":42,"c":"G"},{"x":18,"y":42,"c":"G"},{"x":20,"y":42,"c":"G"},{"x":22,"y":42,"c":"G"},{"x":24,"y":42,"c":"G"},{"x":26,"y":42,"c":"G"},{"x":28,"y":42,"c":"G"},{"x":30,"y":42,"c":"G"},{"x":32,"y":42,"c":"G"},{"x":34,"y":42,"c":"Y"},{"x":36,"y":42,"c":"Y"},{"x":38,"y":42,"c":"Y"},{"x":40,"y":42,"c":"L"},{"x":42,"y":42,"c":"L"},{"x":44,"y":42,"c":"L"},{"x":46,"y":42,"c":"L"},{"x":48,"y":42,"c":"L"},{"x":50,"y":42,"c":"O"},{"x":52,"y":42,"c":"O"},{"x":54,"y":42,"c":"O"},{"x":56,"y":42,"c":"L"},{"x":58,"y":42,"c":"O"},{"x":60,"y":42,"c":"O"},{"x":62,"y":42,"c":"O"},{"x":64,"y":42,"c":"L"},{"x":66,"y":42,"c":"Y"},{"x":68,"y":42,"c":"L"},{"x":70,"y":42,"c":"Y"},{"x":72,"y":42,"c":"L"},{"x":74,"y":42,"c":"Y"},{"x":76,"y":42,"c":"Y"},{"x":78,"y":42,"c":"Y"},{"x":80,"y":42,"c":"G"},{"x":82,"y":42,"c":"G"},{"x":84,"y":42,"c":"G"},{"x":86,"y":42,"c":"G"},{"x":88,"y":42,"c":"G"},{"x":90,"y":42,"c":"G"},{"x":92,"y":42,"c":"G"},{"x":94,"y":42,"c":"G"},
{"x":12,"y":40,"c":"G"},{"x":16,"y":40,"c":"G"},{"x":18,"y":40,"c":"G"},{"x":20,"y":40,"c":"G"},{"x":22,"y":40,"c":"G"},{"x":24,"y":40,"c":"G"},{"x":26,"y":40,"c":"G"},{"x":28,"y":40,"c":"G"},{"x":30,"y":40,"c":"G"},{"x":32,"y":40,"c":"Y"},{"x":34,"y":40,"c":"Y"},{"x":36,"y":40,"c":"Y"},{"x":38,"y":40,"c":"L"},{"x":40,"y":40,"c":"L"},{"x":42,"y":40,"c":"L"},{"x":44,"y":40,"c":"L"},{"x":46,"y":40,"c":"O"},{"x":48,"y":40,"c":"O"},{"x":50,"y":40,"c":"O"},{"x":52,"y":40,"c":"O"},{"x":54,"y":40,"c":"O"},{"x":56,"y":40,"c":"B"},{"x":58,"y":40,"c":"L"},{"x":60,"y":40,"c":"L"},{"x":62,"y":40,"c":"O"},{"x":64,"y":40,"c":"L"},{"x":66,"y":40,"c":"L"},{"x":68,"y":40,"c":"L"},{"x":70,"y":40,"c":"Y"},{"x":72,"y":40,"c":"Y"},{"x":74,"y":40,"c":"Y"},{"x":76,"y":40,"c":"Y"},{"x":78,"y":40,"c":"Y"},{"x":80,"y":40,"c":"G"},{"x":82,"y":40,"c":"G"},{"x":84,"y":40,"c":"G"},{"x":86,"y":40,"c":"G"},{"x":88,"y":40,"c":"G"},{"x":90,"y":40,"c":"G"},{"x":92,"y":40,"c":"G"},{"x":94,"y":40,"c":"G"},{"x":96,"y":40,"c":"G"},{"x":100,"y":40,"c":"G"},
{"x":14,"y":38,"c":"G"},{"x":16,"y":38,"c":"G"},{"x":18,"y":38,"c":"G"},{"x":20,"y":38,"c":"G"},{"x":22,"y":38,"c":"G"},{"x":24,"y":38,"c":"G"},{"x":26,"y":38,"c":"G"},{"x":28,"y":38,"c":"G"},{"x":30,"y":38,"c":"Y"},{"x":32,"y":38,"c":"Y"},{"x":34,"y":38,"c":"Y"},{"x":36,"y":38,"c":"L"},{"x":38,"y":38,"c":"L"},{"x":40,"y":38,"c":"L"},{"x":42,"y":38,"c":"O"},{"x":44,"y":38,"c":"O"},{"x":46,"y":38,"c":"L"},{"x":48,"y":38,"c":"O"},{"x":50,"y":38,"c":"O"},{"x":52,"y":38,"c":"O"},{"x":54,"y":38,"c":"O"},{"x":56,"y":38,"c":"O"},{"x":58,"y":38,"c":"O"},{"x":60,"y":38,"c":"O"},{"x":62,"y":38,"c":"L"},{"x":64,"y":38,"c":"L"},{"x":66,"y":38,"c":"L"},{"x":68,"y":38,"c":"L"},{"x":70,"y":38,"c":"Y"},{"x":72,"y":38,"c":"Y"},{"x":74,"y":38,"c":"Y"},{"x":76,"y":38,"c":"Y"},{"x":78,"y":38,"c":"G"},{"x":80,"y":38,"c":"G"},{"x":82,"y":38,"c":"G"},{"x":84,"y":38,"c":"G"},{"x":86,"y":38,"c":"G"},{"x":88,"y":38,"c":"G"},{"x":90,"y":38,"c":"G"},{"x":92,"y":38,"c":"G"},{"x":94,"y":38,"c":"G"},{"x":96,"y":38,"c":"G"},
{"x":12,"y":36,"c":"G"},{"x":14,"y":36,"c":"G"},{"x":16,"y":36,"c":"G"},{"x":18,"y":36,"c":"G"},{"x":20,"y":36,"c":"G"},{"x":22,"y":36,"c":"G"},{"x":24,"y":36,"c":"G"},{"x":26,"y":36,"c":"G"},{"x":28,"y":36,"c":"Y"},{"x":30,"y":36,"c":"Y"},{"x":32,"y":36,"c":"Y"},{"x":34,"y":36,"c":"Y"},{"x":36,"y":36,"c":"L"},{"x":38,"y":36,"c":"L"},{"x":40,"y":36,"c":"L"},{"x":42,"y":36,"c":"O"},{"x":44,"y":36,"c":"O"},{"x":46,"y":36,"c":"O"},{"x":48,"y":36,"c":"O"},{"x":50,"y":36,"c":"B"},{"x":52,"y":36,"c":"O"},{"x":54,"y":36,"c":"O"},{"x":56,"y":36,"c":"B"},{"x":58,"y":36,"c":"O"},{"x":60,"y":36,"c":"O"},{"x":62,"y":36,"c":"L"},{"x":64,"y":36,"c":"Y"},{"x":66,"y":36,"c":"L"},{"x":68,"y":36,"c":"Y"},{"x":70,"y":36,"c":"Y"},{"x":72,"y":36,"c":"Y"},{"x":74,"y":36,"c":"Y"},{"x":76,"y":36,"c":"Y"},{"x":78,"y":36,"c":"G"},{"x":80,"y":36,"c":"G"},{"x":82,"y":36,"c":"G"},{"x":84,"y":36,"c":"G"},{"x":86,"y":36,"c":"G"},{"x":88,"y":36,"c":"G"},{"x":90,"y":36,"c":"G"},{"x":92,"y":36,"c":"G"},{"x":94,"y":36,"c":"G"},{"x":98,"y":36,"c":"G"},
{"x":10,"y":34,"c":"G"},{"x":14,"y":34,"c":"G"},{"x":16,"y":34,"c":"G"},{"x":18,"y":34,"c":"G"},{"x":20,"y":34,"c":"G"},{"x":22,"y":34,"c":"G"},{"x":24,"y":34,"c":"G"},{"x":26,"y":34,"c":"G"},{"x":28,"y":34,"c":"Y"},{"x":30,"y":34,"c":"Y"},{"x":32,"y":34,"c":"Y"},{"x":34,"y":34,"c":"Y"},{"x":36,"y":34,"c":"L"},{"x":38,"y":34,"c":"L"},{"x":40,"y":34,"c":"O"},{"x":42,"y":34,"c":"L"},{"x":44,"y":34,"c":"O"},{"x":46,"y":34,"c":"O"},{"x":48,"y":34,"c":"O"},{"x":50,"y":34,"c":"O"},{"x":52,"y":34,"c":"O"},{"x":54,"y":34,"c":"O"},{"x":56,"y":34,"c":"O"},{"x":58,"y":34,"c":"O"},{"x":60,"y":34,"c":"O"},{"x":62,"y":34,"c":"L"},{"x":64,"y":34,"c":"L"},{"x":66,"y":34,"c":"Y"},{"x":68,"y":34,"c":"Y"},{"x":70,"y":34,"c":"Y"},{"x":72,"y":34,"c":"Y"},{"x":74,"y":34,"c":"G"},{"x":76,"y":34,"c":"G"},{"x":78,"y":34,"c":"G"},{"x":80,"y":34,"c":"G"},{"x":82,"y":34,"c":"G"},{"x":84,"y":34,"c":"G"},{"x":86,"y":34,"c":"G"},{"x":88,"y":34,"c":"G"},{"x":90,"y":34,"c":"G"},{"x":92,"y":34,"c":"G"},{"x":94,"y":34,"c":"G"},
{"x":10,"y":32,"c":"G"},{"x":12,"y":32,"c":"G"},{"x":14,"y":32,"c":"G"},{"x":16,"y":32,"c":"G"},{"x":18,"y":32,"c":"G"},{"x":20,"y":32,"c":"G"},{"x":22,"y":32,"c":"G"},{"x":24,"y":32,"c":"G"},{"x":26,"y":32,"c":"Y"},{"x":28,"y":32,"c":"Y"},{"x":30,"y":32,"c":"Y"},{"x":32,"y":32,"c":"L"},{"x":34,"y":32,"c":"L"},{"x":36,"y":32,"c":"L"},{"x":38,"y":32,"c":"O"},{"x":40,"y":32,"c":"O"},{"x":42,"y":32,"c":"O"},{"x":44,"y":32,"c":"O"},{"x":46,"y":32,"c":"O"},{"x":48,"y":32,"c":"O"},{"x":50,"y":32,"c":"L"},{"x":52,"y":32,"c":"O"},{"x":54,"y":32,"c":"L"},{"x":56,"y":32,"c":"L"},{"x":58,"y":32,"c":"L"},{"x":60,"y":32,"c":"L"},{"x":62,"y":32,"c":"L"},{"x":64,"y":32,"c":"Y"},{"x":66,"y":32,"c":"Y"},{"x":68,"y":32,"c":"Y"},{"x":70,"y":32,"c":"Y"},{"x":72,"y":32,"c":"G"},{"x":74,"y":32,"c":"G"},{"x":76,"y":32,"c":"G"},{"x":78,"y":32,"c":"G"},{"x":80,"y":32,"c":"G"},{"x":82,"y":32,"c":"G"},{"x":84,"y":32,"c":"G"},{"x":86,"y":32,"c":"G"},{"x":88,"y":32,"c":"G"},{"x":94,"y":32,"c":"G"},
{"x":6,"y":30,"c":"G"},{"x":10,"y":30,"c":"G"},{"x":12,"y":30,"c":"G"},{"x":14,"y":30,"c":"G"},{"x":16,"y":30,"c":"G"},{"x":18,"y":30,"c":"G"},{"x":20,"y":30,"c":"G"},{"x":22,"y":30,"c":"G"},{"x":24,"y":30,"c":"Y"},{"x":26,"y":30,"c":"Y"},{"x":28,"y":30,"c":"Y"},{"x":30,"y":30,"c":"L"},{"x":32,"y":30,"c":"L"},{"x":34,"y":30,"c":"O"},{"x":36,"y":30,"c":"O"},{"x":38,"y":30,"c":"O"},{"x":40,"y":30,"c":"O"},{"x":42,"y":30,"c":"O"},{"x":44,"y":30,"c":"O"},{"x":46,"y":30,"c":"O"},{"x":48,"y":30,"c":"O"},{"x":50,"y":30,"c":"O"},{"x":52,"y":30,"c":"O"},{"x":54,"y":30,"c":"L"},{"x":56,"y":30,"c":"O"},{"x":58,"y":30,"c":"L"},{"x":60,"y":30,"c":"L"},{"x":62,"y":30,"c":"L"},{"x":64,"y":30,"c":"L"},{"x":66,"y":30,"c":"Y"},{"x":68,"y":30,"c":"Y"},{"x":70,"y":30,"c":"Y"},{"x":72,"y":30,"c":"Y"},{"x":74,"y":30,"c":"G"},{"x":76,"y":30,"c":"G"},{"x":78,"y":30,"c":"G"},{"x":80,"y":30,"c":"G"},{"x":82,"y":30,"c":"G"},{"x":84,"y":30,"c":"G"},{"x":86,"y":30,"c":"G"},{"x":88,"y":30,"c":"G"},{"x":90,"y":30,"c":"G"},{"x":94,"y":30,"c":"G"},{"x":96,"y":30,"c":"G"},
{"x":10,"y":28,"c":"G"},{"x":12,"y":28,"c":"G"},{"x":14,"y":28,"c":"G"},{"x":16,"y":28,"c":"G"},{"x":18,"y":28,"c":"G"},{"x":20,"y":28,"c":"G"},{"x":22,"y":28,"c":"G"},{"x":24,"y":28,"c":"Y"},{"x":26,"y":28,"c":"Y"},{"x":28,"y":28,"c":"L"},{"x":30,"y":28,"c":"L"},{"x":32,"y":28,"c":"O"},{"x":34,"y":28,"c":"O"},{"x":36,"y":28,"c":"O"},{"x":38,"y":28,"c":"O"},{"x":40,"y":28,"c":"O"},{"x":42,"y":28,"c":"O"},{"x":44,"y":28,"c":"O"},{"x":46,"y":28,"c":"O"},{"x":48,"y":28,"c":"L"},{"x":50,"y":28,"c":"O"},{"x":52,"y":28,"c":"L"},{"x":54,"y":28,"c":"L"},{"x":56,"y":28,"c":"L"},{"x":58,"y":28,"c":"L"},{"x":60,"y":28,"c":"Y"},{"x":62,"y":28,"c":"L"},{"x":64,"y":28,"c":"Y"},{"x":66,"y":28,"c":"Y"},{"x":68,"y":28,"c":"Y"},{"x":70,"y":28,"c":"Y"},{"x":72,"y":28,"c":"Y"},{"x":74,"y":28,"c":"G"},{"x":76,"y":28,"c":"G"},{"x":78,"y":28,"c":"G"},{"x":80,"y":28,"c":"G"},{"x":82,"y":28,"c":"G"},{"x":84,"y":28,"c":"G"},{"x":86,"y":28,"c":"G"},{"x":88,"y":28,"c":"G"},{"x":92,"y":28,"c":"G"},{"x":96,"y":28,"c":"G"},
{"x":8,"y":26,"c":"G"},{"x":10,"y":26,"c":"G"},{"x":12,"y":26,"c":"G"},{"x":14,"y":26,"c":"G"},{"x":16,"y":26,"c":"G"},{"x":18,"y":26,"c":"G"},{"x":20,"y":26,"c":"G"},{"x":22,"y":26,"c":"Y"},{"x":24,"y":26,"c":"Y"},{"x":26,"y":26,"c":"Y"},{"x":28,"y":26,"c":"L"},{"x":30,"y":26,"c":"L"},{"x":32,"y":26,"c":"O"},{"x":34,"y":26,"c":"O"},{"x":36,"y":26,"c":"O"},{"x":38,"y":26,"c":"B"},{"x":40,"y":26,"c":"B"},{"x":42,"y":26,"c":"O"},{"x":44,"y":26,"c":"O"},{"x":46,"y":26,"c":"L"},{"x":48,"y":26,"c":"O"},{"x":50,"y":26,"c":"O"},{"x":52,"y":26,"c":"O"},{"x":54,"y":26,"c":"L"},{"x":56,"y":26,"c":"L"},{"x":58,"y":26,"c":"L"},{"x":60,"y":26,"c":"Y"},{"x":62,"y":26,"c":"Y"},{"x":64,"y":26,"c":"L"},{"x":66,"y":26,"c":"G"},{"x":68,"y":26,"c":"Y"},{"x":70,"y":26,"c":"G"},{"x":72,"y":26,"c":"G"},{"x":74,"y":26,"c":"G"},{"x":76,"y":26,"c":"G"},{"x":78,"y":26,"c":"G"},{"x":80,"y":26,"c":"G"},{"x":82,"y":26,"c":"G"},{"x":84,"y":26,"c":"G"},{"x":86,"y":26,"c":"G"},{"x":88,"y":26,"c":"G"},{"x":92,"y":26,"c":"G"},
{"x":6,"y":24,"c":"G"},{"x":10,"y":24,"c":"G"},{"x":12,"y":24,"c":"G"},{"x":14,"y":24,"c":"G"},{"x":16,"y":24,"c":"G"},{"x":18,"y":24,"c":"G"},{"x":20,"y":24,"c":"Y"},{"x":22,"y":24,"c":"Y"},{"x":24,"y":24,"c":"Y"},{"x":26,"y":24,"c":"Y"},{"x":28,"y":24,"c":"L"},{"x":30,"y":24,"c":"O"},{"x":32,"y":24,"c":"O"},{"x":34,"y":24,"c":"O"},{"x":36,"y":24,"c":"O"},{"x":38,"y":24,"c":"O"},{"x":40,"y":24,"c":"O"},{"x":42,"y":24,"c":"O"},{"x":44,"y":24,"c":"O"},{"x":46,"y":24,"c":"B"},{"x":48,"y":24,"c":"O"},{"x":50,"y":24,"c":"L"},{"x":52,"y":24,"c":"L"},{"x":54,"y":24,"c":"L"},{"x":56,"y":24,"c":"L"},{"x":58,"y":24,"c":"L"},{"x":60,"y":24,"c":"Y"},{"x":62,"y":24,"c":"Y"},{"x":64,"y":24,"c":"Y"},{"x":66,"y":24,"c":"G"},{"x":68,"y":24,"c":"G"},{"x":70,"y":24,"c":"G"},{"x":72,"y":24,"c":"G"},{"x":74,"y":24,"c":"G"},{"x":76,"y":24,"c":"G"},{"x":78,"y":24,"c":"G"},{"x":80,"y":24,"c":"G"},{"x":82,"y":24,"c":"G"},{"x":84,"y":24,"c":"G"},{"x":86,"y":24,"c":"G"},{"x":88,"y":24,"c":"G"},{"x":90,"y":24,"c":"G"},{"x":92,"y":24,"c":"G"},
{"x":10,"y":22,"c":"G"},{"x":12,"y":22,"c":"G"},{"x":14,"y":22,"c":"G"},{"x":16,"y":22,"c":"G"},{"x":18,"y":22,"c":"G"},{"x":20,"y":22,"c":"Y"},{"x":22,"y":22,"c":"Y"},{"x":24,"y":22,"c":"Y"},{"x":26,"y":22,"c":"L"},{"x":28,"y":22,"c":"L"},{"x":30,"y":22,"c":"O"},{"x":32,"y":22,"c":"O"},{"x":34,"y":22,"c":"O"},{"x":36,"y":22,"c":"B"},{"x":38,"y":22,"c":"B"},{"x":40,"y":22,"c":"O"},{"x":42,"y":22,"c":"B"},{"x":44,"y":22,"c":"B"},{"x":46,"y":22,"c":"O"},{"x":48,"y":22,"c":"L"},{"x":50,"y":22,"c":"L"},{"x":52,"y":22,"c":"O"},{"x":54,"y":22,"c":"L"},{"x":56,"y":22,"c":"Y"},{"x":58,"y":22,"c":"L"},{"x":60,"y":22,"c":"Y"},{"x":62,"y":22,"c":"Y"},{"x":64,"y":22,"c":"G"},{"x":66,"y":22,"c":"G"},{"x":68,"y":22,"c":"G"},{"x":70,"y":22,"c":"G"},{"x":72,"y":22,"c":"G"},{"x":74,"y":22,"c":"G"},{"x":76,"y":22,"c":"G"},{"x":78,"y":22,"c":"G"},{"x":80,"y":22,"c":"G"},{"x":82,"y":22,"c":"G"},{"x":84,"y":22,"c":"G"},{"x":86,"y":22,"c":"G"},
{"x":10,"y":20,"c":"G"},{"x":12,"y":20,"c":"G"},{"x":14,"y":20,"c":"G"},{"x":16,"y":20,"c":"G"},{"x":18,"y":20,"c":"Y"},{"x":20,"y":20,"c":"Y"},{"x":22,"y":20,"c":"L"},{"x":24,"y":20,"c":"L"},{"x":26,"y":20,"c":"O"},{"x":28,"y":20,"c":"O"},{"x":30,"y":20,"c":"L"},{"x":32,"y":20,"c":"L"},{"x":34,"y":20,"c":"O"},{"x":36,"y":20,"c":"O"},{"x":38,"y":20,"c":"B"},{"x":40,"y":20,"c":"O"},{"x":42,"y":20,"c":"L"},{"x":44,"y":20,"c":"O"},{"x":46,"y":20,"c":"O"},{"x":48,"y":20,"c":"L"},{"x":50,"y":20,"c":"L"},{"x":52,"y":20,"c":"Y"},{"x":54,"y":20,"c":"L"},{"x":56,"y":20,"c":"L"},{"x":58,"y":20,"c":"Y"},{"x":60,"y":20,"c":"Y"},{"x":62,"y":20,"c":"Y"},{"x":64,"y":20,"c":"Y"},{"x":66,"y":20,"c":"G"},{"x":68,"y":20,"c":"G"},{"x":70,"y":20,"c":"G"},{"x":72,"y":20,"c":"G"},{"x":74,"y":20,"c":"G"},{"x":76,"y":20,"c":"G"},{"x":78,"y":20,"c":"G"},{"x":80,"y":20,"c":"G"},{"x":82,"y":20,"c":"G"},{"x":84,"y":20,"c":"G"},{"x":90,"y":20,"c":"G"},
{"x":4,"y":18,"c":"G"},{"x":10,"y":18,"c":"G"},{"x":12,"y":18,"c":"G"},{"x":14,"y":18,"c":"G"},{"x":16,"y":18,"c":"G"},{"x":18,"y":18,"c":"Y"},{"x":20,"y":18,"c":"Y"},{"x":22,"y":18,"c":"Y"},{"x":24,"y":18,"c":"L"},{"x":26,"y":18,"c":"L"},{"x":28,"y":18,"c":"O"},{"x":30,"y":18,"c":"B"},{"x":32,"y":18,"c":"B"},{"x":34,"y":18,"c":"O"},{"x":36,"y":18,"c":"B"},{"x":38,"y":18,"c":"O"},{"x":40,"y":18,"c":"B"},{"x":42,"y":18,"c":"O"},{"x":44,"y":18,"c":"O"},{"x":46,"y":18,"c":"O"},{"x":48,"y":18,"c":"L"},{"x":50,"y":18,"c":"L"},{"x":52,"y":18,"c":"Y"},{"x":54,"y":18,"c":"L"},{"x":56,"y":18,"c":"Y"},{"x":58,"y":18,"c":"Y"},{"x":60,"y":18,"c":"Y"},{"x":62,"y":18,"c":"G"},{"x":64,"y":18,"c":"G"},{"x":66,"y":18,"c":"G"},{"x":68,"y":18,"c":"G"},{"x":70,"y":18,"c":"G"},{"x":72,"y":18,"c":"G"},{"x":74,"y":18,"c":"G"},{"x":76,"y":18,"c":"G"},{"x":78,"y":18,"c":"G"},{"x":80,"y":18,"c":"G"},{"x":82,"y":18,"c":"G"},{"x":84,"y":18,"c":"G"},{"x":86,"y":18,"c":"G"},{"x":92,"y":18,"c":"G"},
{"x":8,"y":16,"c":"G"},{"x":10,"y":16,"c":"G"},{"x":12,"y":16,"c":"G"},{"x":14,"y":16,"c":"G"},{"x":16,"y":16,"c":"G"},{"x":18,"y":16,"c":"Y"},{"x":20,"y":16,"c":"Y"},{"x":22,"y":16,"c":"Y"},{"x":24,"y":16,"c":"L"},{"x":26,"y":16,"c":"O"},{"x":28,"y":16,"c":"O"},{"x":30,"y":16,"c":"O"},{"x":32,"y":16,"c":"O"},{"x":34,"y":16,"c":"O"},{"x":36,"y":16,"c":"O"},{"x":38,"y":16,"c":"B"},{"x":40,"y":16,"c":"O"},{"x":42,"y":16,"c":"L"},{"x":44,"y":16,"c":"L"},{"x":46,"y":16,"c":"L"},{"x":48,"y":16,"c":"L"},{"x":50,"y":16,"c":"L"},{"x":52,"y":16,"c":"Y"},{"x":54,"y":16,"c":"Y"},{"x":56,"y":16,"c":"Y"},{"x":58,"y":16,"c":"G"},{"x":60,"y":16,"c":"G"},{"x":62,"y":16,"c":"G"},{"x":64,"y":16,"c":"G"},{"x":66,"y":16,"c":"G"},{"x":68,"y":16,"c":"G"},{"x":70,"y":16,"c":"G"},{"x":72,"y":16,"c":"G"},{"x":74,"y":16,"c":"G"},{"x":76,"y":16,"c":"G"},{"x":78,"y":16,"c":"G"},{"x":80,"y":16,"c":"G"},{"x":82,"y":16,"c":"G"},{"x":84,"y":16,"c":"G"},{"x":92,"y":16,"c":"G"},{"x":94,"y":16,"c":"G"},
{"x":4,"y":14,"c":"G"},{"x":8,"y":14,"c":"G"},{"x":10,"y":14,"c":"G"},{"x":12,"y":14,"c":"G"},{"x":14,"y":14,"c":"G"},{"x":16,"y":14,"c":"G"},{"x":18,"y":14,"c":"Y"},{"x":20,"y":14,"c":"L"},{"x":22,"y":14,"c":"L"},{"x":24,"y":14,"c":"O"},{"x":26,"y":14,"c":"L"},{"x":28,"y":14,"c":"O"},{"x":30,"y":14,"c":"O"},{"x":32,"y":14,"c":"O"},{"x":34,"y":14,"c":"O"},{"x":36,"y":14,"c":"O"},{"x":38,"y":14,"c":"O"},{"x":40,"y":14,"c":"O"},{"x":42,"y":14,"c":"L"},{"x":44,"y":14,"c":"L"},{"x":46,"y":14,"c":"L"},{"x":48,"y":14,"c":"Y"},{"x":50,"y":14,"c":"Y"},{"x":52,"y":14,"c":"Y"},{"x":54,"y":14,"c":"Y"},{"x":56,"y":14,"c":"Y"},{"x":58,"y":14,"c":"G"},{"x":60,"y":14,"c":"G"},{"x":62,"y":14,"c":"G"},{"x":64,"y":14,"c":"G"},{"x":66,"y":14,"c":"G"},{"x":68,"y":14,"c":"G"},{"x":70,"y":14,"c":"G"},{"x":72,"y":14,"c":"G"},{"x":74,"y":14,"c":"G"},{"x":76,"y":14,"c":"G"},{"x":78,"y":14,"c":"G"},{"x":80,"y":14,"c":"G"},{"x":82,"y":14,"c":"G"},{"x":84,"y":14,"c":"G"},
{"x":2,"y":12,"c":"G"},{"x":4,"y":12,"c":"G"},{"x":6,"y":12,"c":"G"},{"x":8,"y":12,"c":"G"},{"x":10,"y":12,"c":"G"},{"x":12,"y":12,"c":"G"},{"x":14,"y":12,"c":"G"},{"x":16,"y":12,"c":"Y"},{"x":18,"y":12,"c":"Y"},{"x":20,"y":12,"c":"Y"},{"x":22,"y":12,"c":"L"},{"x":24,"y":12,"c":"L"},{"x":26,"y":12,"c":"O"},{"x":28,"y":12,"c":"O"},{"x":30,"y":12,"c":"O"},{"x":32,"y":12,"c":"O"},{"x":34,"y":12,"c":"O"},{"x":36,"y":12,"c":"L"},{"x":38,"y":12,"c":"L"},{"x":40,"y":12,"c":"L"},{"x":42,"y":12,"c":"Y"},{"x":44,"y":12,"c":"Y"},{"x":46,"y":12,"c":"Y"},{"x":48,"y":12,"c":"Y"},{"x":50,"y":12,"c":"Y"},{"x":52,"y":12,"c":"Y"},{"x":54,"y":12,"c":"G"},{"x":56,"y":12,"c":"G"},{"x":58,"y":12,"c":"G"},{"x":60,"y":12,"c":"G"},{"x":62,"y":12,"c":"G"},{"x":64,"y":12,"c":"G"},{"x":66,"y":12,"c":"G"},{"x":68,"y":12,"c":"G"},{"x":70,"y":12,"c":"G"},{"x":72,"y":12,"c":"G"},{"x":74,"y":12,"c":"G"},{"x":76,"y":12,"c":"G"},{"x":78,"y":12,"c":"G"},{"x":80,"y":12,"c":"G"},{"x":82,"y":12,"c":"G"},{"x":86,"y":12,"c":"G"},{"x":88,"y":12,"c":"G"},
{"x":2,"y":10,"c":"G"},{"x":6,"y":10,"c":"G"},{"x":8,"y":10,"c":"G"},{"x":10,"y":10,"c":"G"},{"x":12,"y":10,"c":"G"},{"x":14,"y":10,"c":"G"},{"x":16,"y":10,"c":"G"},{"x":18,"y":10,"c":"Y"},{"x":20,"y":10,"c":"Y"},{"x":22,"y":10,"c":"Y"},{"x":24,"y":10,"c":"L"},{"x":26,"y":10,"c":"L"},{"x":28,"y":10,"c":"L"},{"x":30,"y":10,"c":"L"},{"x":32,"y":10,"c":"L"},{"x":34,"y":10,"c":"L"},{"x":36,"y":10,"c":"L"},{"x":38,"y":10,"c":"Y"},{"x":40,"y":10,"c":"L"},{"x":42,"y":10,"c":"Y"},{"x":44,"y":10,"c":"Y"},{"x":46,"y":10,"c":"G"},{"x":48,"y":10,"c":"G"},{"x":50,"y":10,"c":"G"},{"x":52,"y":10,"c":"G"},{"x":54,"y":10,"c":"G"},{"x":56,"y":10,"c":"G"},{"x":58,"y":10,"c":"G"},{"x":60,"y":10,"c":"G"},{"x":62,"y":10,"c":"G"},{"x":64,"y":10,"c":"G"},{"x":66,"y":10,"c":"G"},{"x":68,"y":10,"c":"G"},{"x":70,"y":10,"c":"G"},{"x":72,"y":10,"c":"G"},{"x":74,"y":10,"c":"G"},{"x":76,"y":10,"c":"G"},{"x":78,"y":10,"c":"G"},{"x":80,"y":10,"c":"G"},
{"x":0,"y":8,"c":"G"},{"x":4,"y":8,"c":"G"},{"x":6,"y":8,"c":"G"},{"x":8,"y":8,"c":"G"},{"x":10,"y":8,"c":"G"},{"x":12,"y":8,"c":"G"},{"x":14,"y":8,"c":"G"},{"x":16,"y":8,"c":"G"},{"x":18,"y":8,"c":"G"},{"x":20,"y":8,"c":"Y"},{"x":22,"y":8,"c":"Y"},{"x":24,"y":8,"c":"Y"},{"x":26,"y":8,"c":"L"},{"x":28,"y":8,"c":"L"},{"x":30,"y":8,"c":"Y"},{"x":32,"y":8,"c":"Y"},{"x":34,"y":8,"c":"Y"},{"x":36,"y":8,"c":"Y"},{"x":38,"y":8,"c":"Y"},{"x":40,"y":8,"c":"Y"},{"x":42,"y":8,"c":"Y"},{"x":44,"y":8,"c":"G"},{"x":46,"y":8,"c":"G"},{"x":48,"y":8,"c":"G"},{"x":50,"y":8,"c":"G"},{"x":52,"y":8,"c":"G"},{"x":54,"y":8,"c":"G"},{"x":56,"y":8,"c":"G"},{"x":58,"y":8,"c":"G"},{"x":60,"y":8,"c":"G"},{"x":62,"y":8,"c":"G"},{"x":64,"y":8,"c":"G"},{"x":66,"y":8,"c":"G"},{"x":68,"y":8,"c":"G"},{"x":70,"y":8,"c":"G"},{"x":72,"y":8,"c":"G"},{"x":74,"y":8,"c":"G"},{"x":78,"y":8,"c":"G"},{"x":80,"y":8,"c":"G"},
{"x":8,"y":6,"c":"G"},{"x":10,"y":6,"c":"G"},{"x":12,"y":6,"c":"G"},{"x":14,"y":6,"c":"G"},{"x":16,"y":6,"c":"G"},{"x":18,"y":6,"c":"G"},{"x":20,"y":6,"c":"Y"},{"x":22,"y":6,"c":"Y"},{"x":24,"y":6,"c":"G"},{"x":26,"y":6,"c":"Y"},{"x":28,"y":6,"c":"Y"},{"x":30,"y":6,"c":"Y"},{"x":32,"y":6,"c":"Y"},{"x":34,"y":6,"c":"Y"},{"x":36,"y":6,"c":"G"},{"x":38,"y":6,"c":"G"},{"x":40,"y":6,"c":"G"},{"x":42,"y":6,"c":"G"},{"x":44,"y":6,"c":"G"},{"x":46,"y":6,"c":"G"},{"x":48,"y":6,"c":"G"},{"x":50,"y":6,"c":"G"},{"x":52,"y":6,"c":"G"},{"x":54,"y":6,"c":"G"},{"x":56,"y":6,"c":"G"},{"x":58,"y":6,"c":"G"},{"x":60,"y":6,"c":"G"},{"x":62,"y":6,"c":"G"},{"x":64,"y":6,"c":"G"},{"x":66,"y":6,"c":"G"},{"x":68,"y":6,"c":"G"},{"x":76,"y":6,"c":"G"},{"x":84,"y":6,"c":"G"},
{"x":0,"y":4,"c":"G"},{"x":4,"y":4,"c":"G"},{"x":8,"y":4,"c":"G"},{"x":10,"y":4,"c":"G"},{"x":12,"y":4,"c":"G"},{"x":14,"y":4,"c":"G"},{"x":16,"y":4,"c":"G"},{"x":18,"y":4,"c":"G"},{"x":20,"y":4,"c":"G"},{"x":22,"y":4,"c":"G"},{"x":24,"y":4,"c":"G"},{"x":26,"y":4,"c":"Y"},{"x":28,"y":4,"c":"Y"},{"x":30,"y":4,"c":"Y"},{"x":32,"y":4,"c":"G"},{"x":34,"y":4,"c":"G"},{"x":36,"y":4,"c":"G"},{"x":38,"y":4,"c":"G"},{"x":40,"y":4,"c":"G"},{"x":42,"y":4,"c":"G"},{"x":44,"y":4,"c":"G"},{"x":46,"y":4,"c":"G"},{"x":48,"y":4,"c":"G"},{"x":50,"y":4,"c":"G"},{"x":52,"y":4,"c":"G"},{"x":54,"y":4,"c":"G"},{"x":56,"y":4,"c":"G"},{"x":58,"y":4,"c":"G"},{"x":60,"y":4,"c":"G"},{"x":62,"y":4,"c":"G"},{"x":66,"y":4,"c":"G"},{"x":82,"y":4,"c":"G"},
{"x":2,"y":2,"c":"G"},{"x":4,"y":2,"c":"G"},{"x":6,"y":2,"c":"G"},{"x":8,"y":2,"c":"G"},{"x":10,"y":2,"c":"G"},{"x":12,"y":2,"c":"G"},{"x":14,"y":2,"c":"G"},{"x":16,"y":2,"c":"G"},{"x":18,"y":2,"c":"G"},{"x":20,"y":2,"c":"G"},{"x":22,"y":2,"c":"G"},{"x":24,"y":2,"c":"G"},{"x":26,"y":2,"c":"G"},{"x":28,"y":2,"c":"G"},{"x":30,"y":2,"c":"G"},{"x":32,"y":2,"c":"G"},{"x":34,"y":2,"c":"G"},{"x":36,"y":2,"c":"G"},{"x":38,"y":2,"c":"G"},{"x":40,"y":2,"c":"G"},{"x":42,"y":2,"c":"G"},{"x":44,"y":2,"c":"G"},{"x":46,"y":2,"c":"G"},{"x":48,"y":2,"c":"G"},{"x":50,"y":2,"c":"G"},{"x":52,"y":2,"c":"G"},{"x":54,"y":2,"c":"G"},{"x":56,"y":2,"c":"G"},{"x":58,"y":2,"c":"G"},{"x":60,"y":2,"c":"G"},{"x":62,"y":2,"c":"G"},{"x":74,"y":2,"c":"G"},{"x":76,"y":2,"c":"G"},
{"x":0,"y":0,"c":"G"},{"x":2,"y":0,"c":"G"},{"x":6,"y":0,"c":"G"},{"x":8,"y":0,"c":"G"},{"x":10,"y":0,"c":"G"},{"x":12,"y":0,"c":"G"},{"x":14,"y":0,"c":"G"},{"x":16,"y":0,"c":"G"},{"x":18,"y":0,"c":"G"},{"x":20,"y":0,"c":"G"},{"x":22,"y":0,"c":"G"},{"x":24,"y":0,"c":"G"},{"x":26,"y":0,"c":"G"},{"x":28,"y":0,"c":"G"},{"x":30,"y":0,"c":"G"},{"x":32,"y":0,"c":"G"},{"x":34,"y":0,"c":"G"},{"x":36,"y":0,"c":"G"},{"x":38,"y":0,"c":"G"},{"x":40,"y":0,"c":"G"},{"x":42,"y":0,"c":"G"},{"x":44,"y":0,"c":"G"},{"x":46,"y":0,"c":"G"},{"x":52,"y":0,"c":"G"},{"x":56,"y":0,"c":"G"}
],
"dots":[{"x":78,"y":98,"big":0},{"x":84,"y":96,"big":0},{"x":98,"y":96,"big":0},{"x":60,"y":86,"big":1},{"x":64,"y":82,"big":0},{"x":70,"y":82,"big":0},{"x":76,"y":82,"big":0},{"x":88,"y":86,"big":0},{"x":90,"y":86,"big":0},{"x":72,"y":78,"big":0},{"x":74,"y":78,"big":0},{"x":46,"y":76,"big":0},{"x":60,"y":76,"big":0},{"x":96,"y":74,"big":0},{"x":92,"y":66,"big":0},{"x":68,"y":58,"big":0},{"x":58,"y":56,"big":0},{"x":44,"y":50,"big":0},{"x":60,"y":50,"big":0},{"x":36,"y":48,"big":0},{"x":50,"y":48,"big":0},{"x":50,"y":46,"big":0},{"x":38,"y":44,"big":0},{"x":70,"y":42,"big":0},{"x":60,"y":34,"big":0},{"x":18,"y":32,"big":0},{"x":26,"y":28,"big":0},{"x":44,"y":28,"big":0},{"x":58,"y":24,"big":0},{"x":72,"y":24,"big":0},{"x":42,"y":22,"big":0},{"x":34,"y":20,"big":0},{"x":32,"y":10,"big":0}]},
"layer":[
{"data":{"values":[{"a":-6.5,"b":107,"c":-5.3,"d":117}]},"mark":{"type":"rect","fill":"#FFFFC8"},"encoding":{"x":{"field":"a","type":"quantitative","scale":{"domain":[-1,101],"padding":0,"nice":false,"zero":false},"axis":{"zindex":1,"values":[0,20,40,60,80,100],"grid":false,"ticks":false,"domain":false,"labelFont":"Lato","labelFontSize":12.5,"labelColor":"#222","labelPadding":3,"title":"ČJ","titleFont":"Lato","titleFontSize":13,"titleFontWeight":"normal","titleColor":"#222","titleX":805,"titleY":3,"titleAnchor":"start"}},"x2":{"field":"b"},"y":{"field":"c","type":"quantitative","scale":{"domain":[-1,101],"padding":0,"nice":false,"zero":false},"axis":{"zindex":1,"values":[20,40,60,80,100],"grid":false,"ticks":false,"domain":false,"labelFont":"Lato","labelFontSize":12.5,"labelColor":"#222","labelPadding":4,"title":"MA","titleFont":"Lato","titleFontSize":15,"titleFontWeight":"normal","titleColor":"#222","titleAngle":0,"titleX":-31,"titleY":-9,"titleAlign":"left"}},"y2":{"field":"d"}}},
{"data":{"values":[{"a":-1,"b":101,"c":-1,"d":101}]},"mark":{"type":"rect","fill":"#FAFAFA"},"encoding":{"x":{"field":"a","type":"quantitative"},"x2":{"field":"b"},"y":{"field":"c","type":"quantitative"},"y2":{"field":"d"}}},
{"data":{"name":"cells"},"mark":{"type":"rect","width":16.6,"height":14.5},"encoding":{"x":{"field":"x","type":"quantitative"},"y":{"field":"y","type":"quantitative"},"color":{"field":"c","type":"nominal","legend":null,"scale":{"domain":["G","Y","L","O","B"],"range":["#99FF99","#FBFB60","#FBC664","#FB9664","#C89664"]}}}},
{"data":{"values":[{"a":-1,"b":101,"c":-1,"d":101}]},"mark":{"type":"rect","filled":false,"stroke":"#555","strokeWidth":1.5},"encoding":{"x":{"field":"a","type":"quantitative"},"x2":{"field":"b"},"y":{"field":"c","type":"quantitative"},"y2":{"field":"d"}}},
{"data":{"values":[{"a":-1,"b":101,"c":49.8}]},"mark":{"type":"rule","stroke":"#666","strokeWidth":1.5,"strokeDash":[11.5,4.1],"blend":"multiply"},"encoding":{"x":{"field":"a","type":"quantitative"},"x2":{"field":"b"},"y":{"field":"c","type":"quantitative"}}},
{"data":{"values":[{"a":-1,"b":0.9,"c":49.8}]},"mark":{"type":"rule","stroke":"#000","strokeWidth":1.5},"encoding":{"x":{"field":"a","type":"quantitative"},"x2":{"field":"b"},"y":{"field":"c","type":"quantitative"}}},
{"data":{"values":[{"a":57.75,"c":91,"d":100},{"a":58,"c":-1,"d":91}]},"mark":{"type":"rule","stroke":"#2a2a2a","strokeWidth":2,"strokeDash":[9,4.5]},"encoding":{"x":{"field":"a","type":"quantitative"},"y":{"field":"c","type":"quantitative"},"y2":{"field":"d"}}},
{"data":{"name":"dots"},"mark":{"type":"circle","color":"#000080","opacity":1},"encoding":{"x":{"field":"x","type":"quantitative"},"y":{"field":"y","type":"quantitative"},"size":{"field":"big","type":"quantitative","legend":null,"scale":{"domain":[0,1],"range":[50,113]}}}},
{"data":{"values":[{"x":62,"y":60}]},"mark":{"type":"point","shape":"cross","angle":45,"filled":true,"color":"#000","size":90,"opacity":1},"encoding":{"x":{"field":"x","type":"quantitative"},"y":{"field":"y","type":"quantitative"}}},
{"data":{"values":[{"x":50,"y":101.8,"t":"v pozadí výsledky pro Českou republiku"}]},"mark":{"type":"text","font":"Lato","fontSize":21.7,"color":"#111","baseline":"bottom"},"encoding":{"x":{"field":"x","type":"quantitative"},"y":{"field":"y","type":"quantitative"},"text":{"field":"t"}}}
]}
